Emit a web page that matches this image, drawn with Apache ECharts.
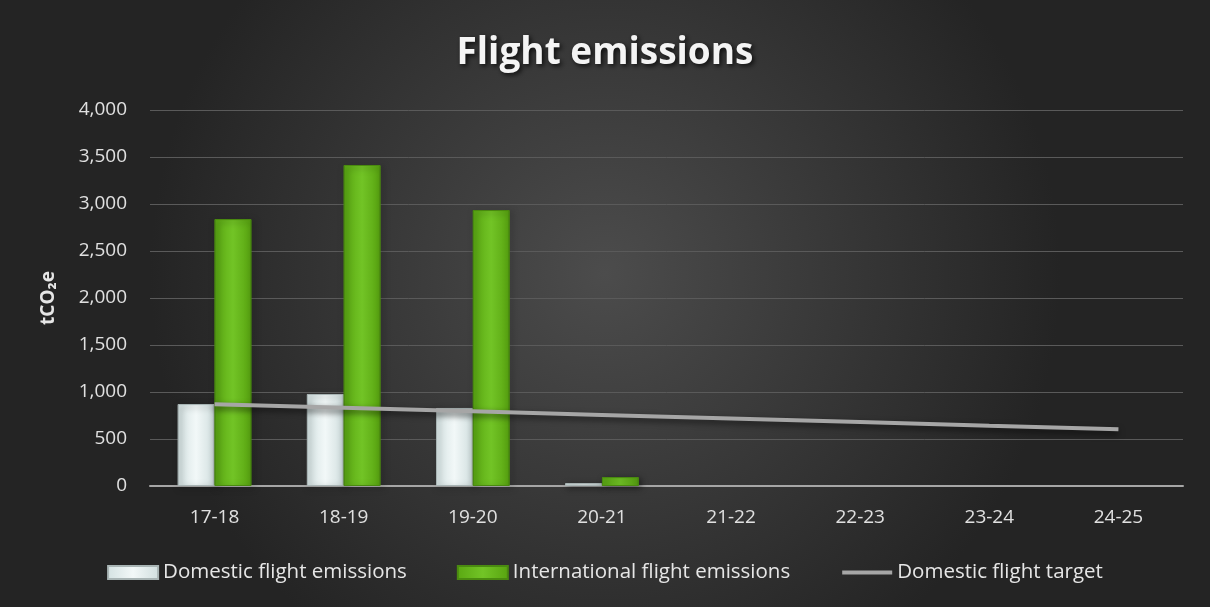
<!DOCTYPE html>
<html>
<head>
<meta charset="utf-8">
<script src="https://cdn.jsdelivr.net/npm/echarts@6/dist/echarts.min.js"></script>
<style>
html,body{margin:0;padding:0;background:#2a2a2a;}
#main{width:1210px;height:607px;}
</style>
</head>
<body>
<div id="main"></div>
<script>
const categories = ['17-18','18-19','19-20','20-21','21-22','22-23','23-24','24-25'];
const domestic = [872, 979, 830, 30, null, null, null, null];
const international = [2840, 3415, 2936, 95, null, null, null, null];
const target = [870, 832, 794, 756, 718, 680, 642, 605];
const yTicks = [0, 4000, 500];

const chart = echarts.init(document.getElementById('main'), null, {renderer: 'canvas'});
const font = 'Open Sans, Noto Sans, sans-serif';
chart.setOption({
  backgroundColor: {
    type: 'radial', x: 0.5, y: 0.45, r: 0.75,
    colorStops: [{offset: 0, color: '#4c4c4c'}, {offset: 1, color: '#242424'}]
  },
  title: {
    text: 'Flight emissions', left: 'center', top: 30,
    textStyle: {
      color: '#f4f4f4', fontSize: 37, fontWeight: 'bold', fontFamily: font,
      textShadowColor: 'rgba(0,0,0,0.8)', textShadowBlur: 5, textShadowOffsetX: 2, textShadowOffsetY: 2
    }
  },
  legend: {
    bottom: 19, left: 'center', itemGap: 50, itemWidth: 50, itemHeight: 13,
    textStyle: {color: '#e6e6e6', fontSize: 20.5, fontFamily: font},
    data: [
      {name: 'Domestic flight emissions', icon: 'rect'},
      {name: 'International flight emissions', icon: 'rect'},
      {name: 'Domestic flight target', itemStyle: {color: 'rgba(0,0,0,0)', borderWidth: 0, opacity: 0},
        lineStyle: {color: '#a6a6a6', width: 4}}
    ]
  },
  grid: {left: 150, right: 27, top: 110, bottom: 121},
  xAxis: {
    type: 'category', data: categories,
    axisLine: {lineStyle: {color: '#a6a6a6', width: 2}},
    axisTick: {show: false},
    axisLabel: {color: '#e0e0e0', fontSize: 19, fontFamily: font, margin: 22}
  },
  yAxis: {
    type: 'value', min: yTicks[0], max: yTicks[1], interval: yTicks[2],
    name: 'tCO₂e', nameLocation: 'middle', nameGap: 92, nameRotate: 90,
    nameTextStyle: {color: '#e6e6e6', fontSize: 19, fontWeight: 'bold', fontFamily: font},
    axisLine: {show: false}, axisTick: {show: false},
    splitLine: {lineStyle: {color: '#5a5a5a', width: 1}},
    axisLabel: {color: '#e0e0e0', fontSize: 19, fontFamily: font, margin: 23,
      formatter: v => v.toLocaleString('en-US')}
  },
  series: [
    {
      name: 'Domestic flight emissions', type: 'bar', data: domestic,
      barGap: '0%', barCategoryGap: '43%',
      itemStyle: {
        color: {type: 'linear', x: 0, y: 0, x2: 1, y2: 0, colorStops: [
          {offset: 0, color: '#d4e2e2'}, {offset: 0.5, color: '#f2f8f8'}, {offset: 1, color: '#d0dede'}]},
        borderColor: '#a8b4b4', borderWidth: 1,
        shadowColor: 'rgba(0,0,0,0.5)', shadowBlur: 6, shadowOffsetX: 2, shadowOffsetY: 2
      }
    },
    {
      name: 'International flight emissions', type: 'bar', data: international,
      itemStyle: {
        color: {type: 'linear', x: 0, y: 0, x2: 1, y2: 0, colorStops: [
          {offset: 0, color: '#5aa812'}, {offset: 0.5, color: '#72c426'}, {offset: 1, color: '#58a410'}]},
        borderColor: '#4a8a10', borderWidth: 1,
        shadowColor: 'rgba(0,0,0,0.5)', shadowBlur: 6, shadowOffsetX: 2, shadowOffsetY: 2
      }
    },
    {
      name: 'Domestic flight target', type: 'line', data: target,
      symbol: 'none', z: 5,
      lineStyle: {color: '#a6a6a6', width: 4,
        shadowColor: 'rgba(0,0,0,0.6)', shadowBlur: 6, shadowOffsetY: 3},
      itemStyle: {color: '#a6a6a6'}
    }
  ]
});
</script>
</body>
</html>
